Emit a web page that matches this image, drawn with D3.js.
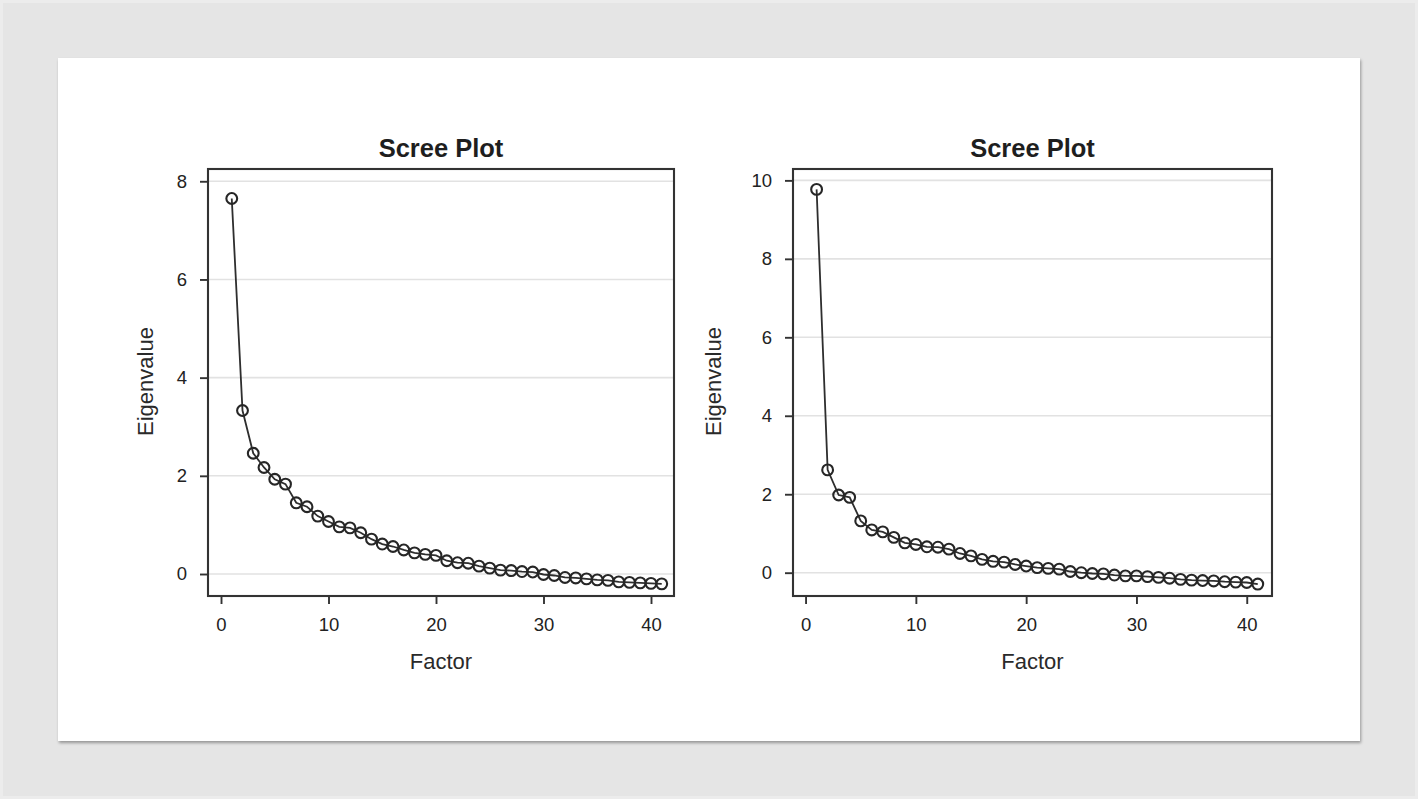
<!DOCTYPE html>
<html><head><meta charset="utf-8">
<script src="https://cdn.jsdelivr.net/npm/d3@7"></script>
<style>
html,body{margin:0;padding:0;background:#e5e5e5;}
svg{display:block;font-family:"Liberation Sans",Arial,sans-serif;}
</style></head>
<body>
<svg id="chart" width="1418" height="799"></svg>
<script>
// ---- data ----
const factorsLeft = d3.range(1, 42);
const eigenLeft = [7.65, 3.33, 2.46, 2.17, 1.93, 1.83, 1.45, 1.37, 1.18, 1.07,
  0.96, 0.94, 0.84, 0.71, 0.61, 0.56, 0.49, 0.43, 0.40, 0.38,
  0.27, 0.23, 0.22, 0.16, 0.12, 0.08, 0.07, 0.05, 0.04, -0.01,
  -0.03, -0.07, -0.08, -0.10, -0.12, -0.13, -0.16, -0.17, -0.18, -0.19, -0.20];
const factorsRight = d3.range(1, 42);
const eigenRight = [9.77, 2.62, 1.98, 1.92, 1.32, 1.09, 1.04, 0.90, 0.76, 0.72,
  0.66, 0.65, 0.60, 0.49, 0.43, 0.34, 0.29, 0.27, 0.21, 0.17,
  0.13, 0.11, 0.09, 0.03, 0.00, -0.02, -0.03, -0.06, -0.08, -0.08,
  -0.10, -0.12, -0.14, -0.17, -0.19, -0.20, -0.21, -0.23, -0.24, -0.25, -0.29];
const xTicks = [0, 10, 20, 30, 40];
const yTicksLeft = [0, 2, 4, 6, 8];
const yTicksRight = [0, 2, 4, 6, 8, 10];
const titleText = "Scree Plot";
const xLabel = "Factor";
const yLabel = "Eigenvalue";

const svg = d3.select("#chart");
svg.append("rect").attr("x",0).attr("y",0).attr("width",1418).attr("height",799).attr("fill","#ececec");
svg.append("rect").attr("x",3).attr("y",3).attr("width",1412).attr("height",793).attr("fill","#e5e5e5");
const defs = svg.append("defs");
const f = defs.append("filter").attr("id","sh").attr("x","-5%").attr("y","-5%").attr("width","110%").attr("height","110%");
f.append("feDropShadow").attr("dx",1).attr("dy",2).attr("stdDeviation",1.6).attr("flood-color","#000").attr("flood-opacity",0.35);
svg.append("rect").attr("x",58).attr("y",58).attr("width",1302).attr("height",683).attr("fill","#fff").attr("filter","url(#sh)");

const FONT = '"Liberation Sans",Arial,sans-serif';

function panel(cfg) {
  const {left, right, top, bottom, xDom, yDom, yTicks, xs, ys} = cfg;
  const g = svg.append("g");
  const x = d3.scaleLinear().domain(xDom).range([left, right]);
  const y = d3.scaleLinear().domain(yDom).range([bottom, top]);
  g.selectAll(".grid").data(yTicks).join("line")
    .attr("x1", left).attr("x2", right)
    .attr("y1", d => y(d)).attr("y2", d => y(d))
    .attr("stroke", "#e2e2e2").attr("stroke-width", 1.6);
  const ax = g.append("g").attr("transform", `translate(0,${bottom})`)
    .call(d3.axisBottom(x).tickValues(xTicks).tickSize(8).tickPadding(14));
  const ay = g.append("g").attr("transform", `translate(${left},0)`)
    .call(d3.axisLeft(y).tickValues(yTicks).tickSize(8).tickPadding(13));
  [ax, ay].forEach(a => {
    a.select(".domain").remove();
    a.selectAll(".tick line").attr("stroke", "#333").attr("stroke-width", 1.9);
    a.selectAll(".tick text").attr("fill", "#222").style("font-size", "18.5px")
      .style("font-family", FONT);
  });
  const pts = xs.map((d, i) => [d, ys[i]]);
  g.append("path").datum(pts)
    .attr("d", d3.line().x(d => x(d[0])).y(d => y(d[1])))
    .attr("fill", "none").attr("stroke", "#2e2e2e").attr("stroke-width", 1.8);
  g.selectAll(".pt").data(pts).join("circle")
    .attr("cx", d => x(d[0])).attr("cy", d => y(d[1])).attr("r", 5.4)
    .attr("fill", "none").attr("stroke", "#262626").attr("stroke-width", 2.1);
  g.append("rect").attr("x", left).attr("y", top)
    .attr("width", right - left).attr("height", bottom - top)
    .attr("fill", "none").attr("stroke", "#333").attr("stroke-width", 2.1);
  g.append("text").attr("x", (left + right) / 2).attr("y", top - 12)
    .attr("text-anchor", "middle").attr("fill", "#1e1e1e")
    .style("font-size", "25.5px").style("font-weight", "bold").text(titleText);
  g.append("text").attr("x", (left + right) / 2).attr("y", bottom + 73)
    .attr("text-anchor", "middle").attr("fill", "#2a2a2a")
    .style("font-size", "22px").text(xLabel);
  g.append("text").attr("transform", `translate(${cfg.yLabelX},${(top + bottom) / 2 - 1}) rotate(-90)`)
    .attr("text-anchor", "middle").attr("fill", "#2a2a2a")
    .style("font-size", "22px").text(yLabel);
}

panel({left: 208, right: 674, top: 169, bottom: 596,
  xDom: [-1.21, 42.14], yDom: [-0.448, 8.25], yTicks: yTicksLeft,
  xs: factorsLeft, ys: eigenLeft, yLabelX: 153});
panel({left: 793, right: 1272, top: 169, bottom: 596,
  xDom: [-1.14, 42.29], yDom: [-0.594, 10.29], yTicks: yTicksRight,
  xs: factorsRight, ys: eigenRight, yLabelX: 721});
</script>
</body></html>
